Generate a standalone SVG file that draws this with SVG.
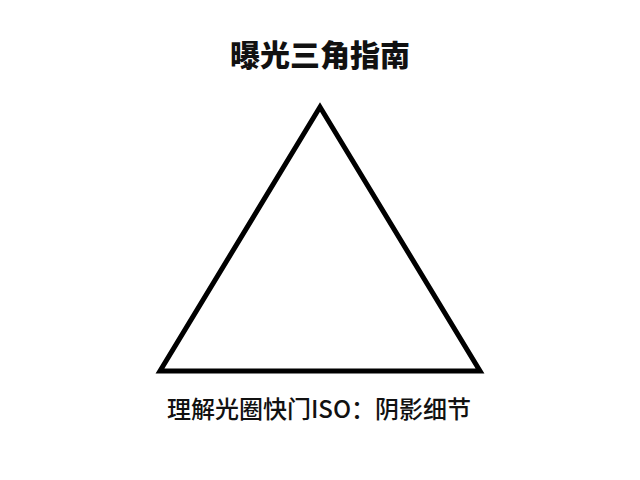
<svg xmlns="http://www.w3.org/2000/svg" width="640" height="480" viewBox="0 0 640 480">
  <style>
    .title { font-family: "Noto Sans CJK SC", "Noto Sans", sans-serif; font-size: 30px; font-weight: 900; fill: #111; text-anchor: middle; }
    .caption { font-family: "Noto Sans CJK SC", "Noto Sans", sans-serif; font-size: 24px; font-weight: 500; fill: #111; text-anchor: middle; }
    .tri { fill: #ffffff; stroke: #000000; stroke-width: 5; stroke-linejoin: miter; }
  </style>
  <rect width="640" height="480" fill="#ffffff"/>
  <g id="title">
    <text class="title" x="320" y="66">曝光三角指南</text>
  </g>
  <g id="triangle">
    <polygon class="tri" points="320,107 160,371 480,371"/>
  </g>
  <g id="connectors"></g>
  <g id="caption">
    <text class="caption" x="319" y="418">理解光圈快门ISO：阴影细节</text>
  </g>
</svg>
